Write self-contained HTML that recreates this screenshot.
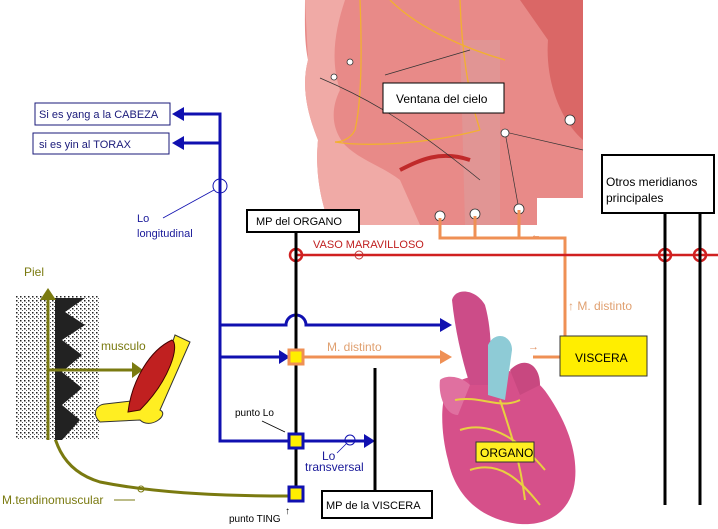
<!DOCTYPE html>
<html><head><meta charset="utf-8"><style>
body{margin:0;background:#fff;width:718px;height:529px;overflow:hidden}
svg{display:block;font-family:"Liberation Sans",sans-serif}
</style></head><body>
<svg width="718" height="529" viewBox="0 0 718 529">
<defs>
<pattern id="st" width="4" height="4" patternUnits="userSpaceOnUse"><rect width="4" height="4" fill="#fff"/><rect x="0" y="0" width="1.5" height="1.5" fill="#222"/><rect x="2" y="2" width="1" height="1" fill="#555"/></pattern>
</defs>
<!-- face image -->
<path d="M305,0 H583 V198 H537 V225 H330 C320,200 315,170 318,140 C310,120 300,90 308,60 C304,40 305,20 305,0Z" fill="#e88a88"/>
<path d="M305,0 H345 C335,30 330,60 340,90 C330,110 332,130 345,145 C360,160 380,165 400,180 L420,225 H330 C320,200 315,170 318,140 C310,120 300,90 308,60Z" fill="#f0aaa6"/>
<path d="M520,0 H583 V140 C560,120 545,80 548,40Z" fill="#d05050" opacity=".6"/>
<path d="M460,40 L500,40 L500,225 L465,225Z" fill="#d9a0a0" opacity=".5"/>
<path d="M400,170 C420,160 440,150 470,160" fill="none" stroke="#c02a2a" stroke-width="4"/>
<g fill="none" stroke="#f2b030" stroke-width="1.3">
<path d="M360,0 C362,50 362,100 355,130 C350,140 340,142 335,142"/>
<path d="M335,142 C360,146 420,146 480,130"/>
<path d="M460,0 C462,60 470,100 480,130"/>
<path d="M390,0 C420,30 470,50 505,60"/>
</g>
<g fill="none" stroke="#333" stroke-width=".7">
<path d="M320,78 C360,95 400,115 480,180"/>
<path d="M505,132 L583,150"/><path d="M505,132 L519,210"/>
<path d="M385,75 L470,50"/>
</g>
<g fill="#fff" stroke="#333" stroke-width=".8">
<circle cx="440" cy="216" r="5"/><circle cx="475" cy="214" r="5"/><circle cx="519" cy="209" r="5"/><circle cx="505" cy="133" r="4"/><circle cx="570" cy="120" r="5"/><circle cx="350" cy="62" r="3"/><circle cx="334" cy="77" r="3"/>
</g>
<rect x="383" y="83" width="121" height="30" fill="#fff" stroke="#000"/>
<text x="396" y="103" font-size="12">Ventana del cielo</text>
<!-- orange from face -->
<g stroke="#ef9055" stroke-width="3" fill="none">
<path d="M440,218 V238 H565 V357 H533"/><path d="M475,216 V238"/><path d="M519,210 V238"/>
<path d="M303,357 H442"/>
</g>
<polygon points="440,350 452,357 440,364" fill="#ef9055"/>
<text x="531" y="238" font-size="10" fill="#e89060">←</text>
<text x="568" y="310" font-size="12" fill="#e0a070">↑ M. distinto</text>
<text x="327" y="351" font-size="12" fill="#e0a070">M. distinto</text>
<text x="528" y="350" font-size="11" fill="#e09060">→</text>
<!-- red line -->
<line x1="296" y1="255" x2="718" y2="255" stroke="#d02020" stroke-width="2.5"/>
<g fill="none" stroke="#d02020" stroke-width="2.5"><circle cx="296" cy="255" r="6"/><circle cx="665" cy="255" r="6"/><circle cx="700" cy="255" r="6"/></g>
<circle cx="359" cy="255" r="4" fill="none" stroke="#c03030"/>
<text x="313" y="248" font-size="11" fill="#c02020">VASO MARAVILLOSO</text>
<!-- Otros -->
<rect x="602" y="155" width="112" height="58" fill="#fff" stroke="#000" stroke-width="2"/>
<text x="606" y="186" font-size="12">Otros meridianos</text>
<text x="606" y="202" font-size="12">principales</text>
<line x1="665" y1="213" x2="665" y2="505" stroke="#000" stroke-width="3"/>
<line x1="700" y1="213" x2="700" y2="505" stroke="#000" stroke-width="3"/>
<!-- heart -->
<path d="M450,385 C440,395 440,430 448,460 C455,495 480,520 520,524 C550,526 572,510 575,480 C578,450 565,420 548,395 C535,375 515,368 495,372 C480,374 462,378 450,385Z" fill="#d6508a"/>
<path d="M440,380 C438,395 445,415 458,415 L470,385 C460,375 445,375 440,380Z" fill="#e070a0"/>
<path d="M452,300 C455,288 475,288 485,305 C492,330 492,360 488,385 L470,385 C462,360 455,330 452,300Z" fill="#cc4c88"/>
<path d="M488,345 C495,330 512,335 512,350 L505,400 L488,395Z" fill="#8ecbd6"/>
<path d="M510,370 C525,355 540,365 540,385 L520,395Z" fill="#c84880"/>
<g fill="none" stroke="#e8d040" stroke-width="2"><path d="M460,430 C490,420 520,440 545,470"/><path d="M470,470 C500,460 520,480 540,505"/><path d="M500,400 C510,430 520,460 525,500"/><path d="M455,400 C480,395 500,410 520,400"/></g>
<rect x="476" y="442" width="58" height="20" fill="#ffee22" stroke="#333"/>
<text x="480" y="457" font-size="12">ORGANO</text>
<rect x="560" y="336" width="87" height="40" fill="#ffee00" stroke="#333"/>
<text x="575" y="362" font-size="12">VISCERA</text>
<!-- left boxes -->
<rect x="35" y="103" width="135" height="22" fill="#fff" stroke="#1a1a7a"/>
<text x="39" y="118" font-size="11" fill="#1a1a7a">Si es yang a la CABEZA</text>
<rect x="33" y="133" width="136" height="21" fill="#fff" stroke="#1a1a7a"/>
<text x="39" y="148" font-size="11" fill="#1a1a7a">si es yin al TORAX</text>
<!-- blue -->
<g stroke="#1010b0" stroke-width="3" fill="none">
<path d="M180,114 H220 V441 H370"/><path d="M180,143 H220"/>
<path d="M220,325 H286 A10,10 0 0 1 306,325 H442"/>
<path d="M220,357 H282"/>
</g>
<g fill="#1010b0">
<polygon points="172,114 184,107 184,121"/><polygon points="172,143 184,136 184,150"/>
<polygon points="452,325 440,318 440,332"/><polygon points="290,357 279,350 279,364"/><polygon points="375,441 364,434 364,448"/>
</g>
<circle cx="220" cy="186" r="7" fill="none" stroke="#1010b0"/>
<line x1="214" y1="190" x2="163" y2="218" stroke="#1010b0" stroke-width=".8"/>
<text x="137" y="222" font-size="11" fill="#1a1a9a">Lo</text>
<text x="137" y="237" font-size="11" fill="#1a1a9a">longitudinal</text>
<circle cx="350" cy="440" r="5" fill="none" stroke="#1010b0"/>
<line x1="346" y1="444" x2="337" y2="453" stroke="#1010b0" stroke-width=".8"/>
<text x="322" y="460" font-size="12" fill="#1a1a9a">Lo</text>
<text x="305" y="471" font-size="12" fill="#1a1a9a">transversal</text>
<!-- MP del organo -->
<rect x="247" y="210" width="112" height="22" fill="#fff" stroke="#000" stroke-width="2"/>
<text x="256" y="225" font-size="11">MP del ORGANO</text>
<line x1="296" y1="232" x2="296" y2="496" stroke="#000" stroke-width="3"/>
<line x1="375" y1="368" x2="375" y2="490" stroke="#000" stroke-width="3"/>
<rect x="322" y="491" width="110" height="27" fill="#fff" stroke="#000" stroke-width="2"/>
<text x="326" y="509" font-size="11">MP de la VISCERA</text>
<!-- olive -->
<path d="M48,300 V400 C52,440 60,470 100,482 C150,492 210,496 290,496" fill="none" stroke="#7a7a10" stroke-width="3"/>
<!-- squares -->
<rect x="289" y="350" width="14" height="14" fill="#ffee00" stroke="#ef9055" stroke-width="3"/>
<rect x="289" y="434" width="14" height="14" fill="#ffee00" stroke="#1010b0" stroke-width="3"/>
<rect x="289" y="487" width="14" height="14" fill="#ffee00" stroke="#1010b0" stroke-width="3"/>
<text x="235" y="416" font-size="10">punto Lo</text>
<line x1="262" y1="421" x2="285" y2="432" stroke="#000" stroke-width=".8"/>
<text x="229" y="522" font-size="10">punto TING</text>
<text x="285" y="514" font-size="10">↑</text>
<!-- skin -->
<rect x="15" y="295" width="85" height="145" fill="url(#st)"/>
<path d="M55,298 H85 L65,312 L85,325 L62,340 L82,355 L62,372 L82,388 L62,405 L80,420 L62,440 H55Z" fill="#222"/>
<line x1="48" y1="440" x2="48" y2="298" stroke="#7a7a10" stroke-width="3"/>
<polygon points="48,288 40,300 56,300" fill="#7a7a10"/>
<line x1="48" y1="370" x2="135" y2="370" stroke="#7a7a10" stroke-width="3"/>
<polygon points="143,370 132,362 132,378" fill="#7a7a10"/>
<text x="24" y="276" font-size="12" fill="#7a7a10">Piel</text>
<text x="101" y="350" font-size="12" fill="#7a7a10">musculo</text>
<text x="2" y="504" font-size="12" fill="#7a7a10">M.tendinomuscular</text>
<line x1="114" y1="500" x2="135" y2="500" stroke="#7a7a10"/>
<circle cx="141" cy="489" r="3" fill="none" stroke="#7a7a10"/>
<!-- muscle & bone -->
<path d="M175,335 L190,342 L160,410 C170,415 150,430 140,420 L100,422 C92,415 95,405 105,404 L140,400 L160,380Z" fill="#ffee22" stroke="#333"/>
<path d="M172,340 C180,345 170,380 140,410 L128,412 C132,380 150,350 172,340Z" fill="#c02020" stroke="#400"/>
</svg>
</body></html>
